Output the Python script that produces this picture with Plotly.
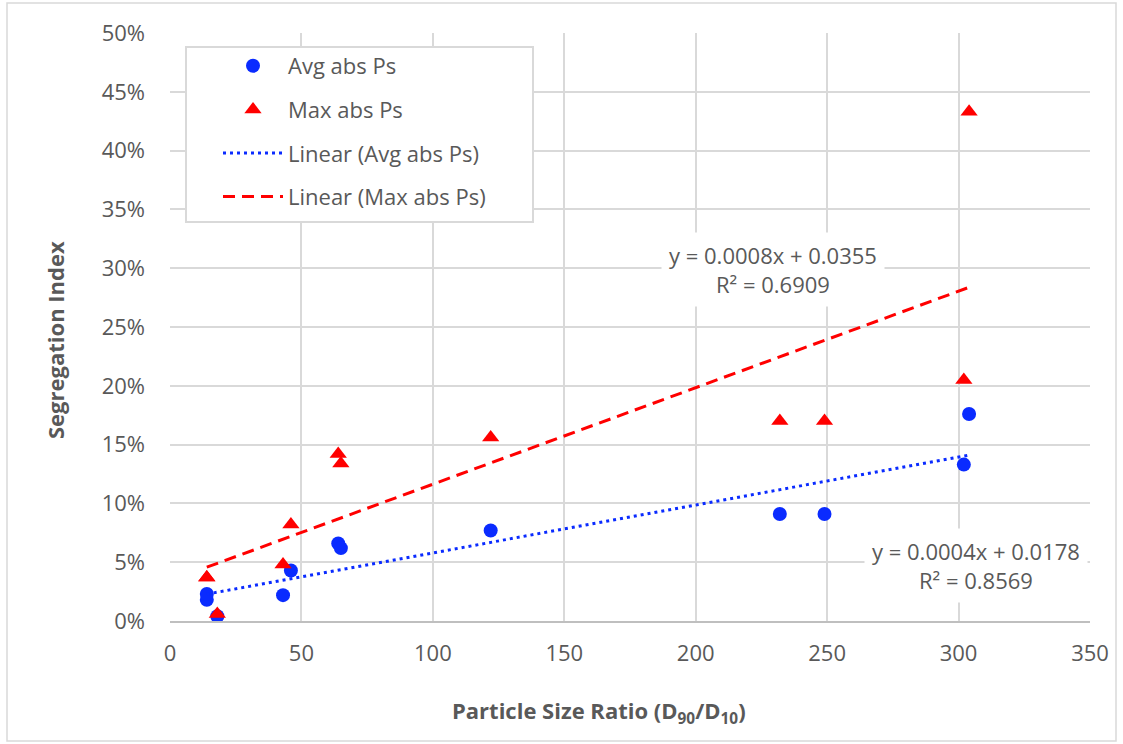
import numpy as np
import plotly.graph_objects as go

# ---- data ----
ratio = [14, 14, 18, 43, 46, 64, 65, 122, 232, 249, 302, 304]
avg_ps = [0.018, 0.023, 0.004, 0.022, 0.043, 0.066, 0.062, 0.077, 0.091, 0.091, 0.133, 0.176]
max_ps = [0.037, 0.037, 0.006, 0.048, 0.082, 0.142, 0.134, 0.156, 0.170, 0.170, 0.205, 0.433]

x_ticks = [0, 50, 100, 150, 200, 250, 300, 350]
y_ticks = [0, 0.05, 0.10, 0.15, 0.20, 0.25, 0.30, 0.35, 0.40, 0.45, 0.50]

eq_max = "y = 0.0008x + 0.0355<br>R² = 0.6909"
eq_avg = "y = 0.0004x + 0.0178<br>R² = 0.8569"

FONT = "Open Sans"
TXT = "#595959"
GRID = "#d9d9d9"
BLUE = "#0a2bff"
RED = "#ff0000"

# linear trend lines (least squares) over the data span
xa = np.array(ratio, dtype=float)
xs = np.array([xa.min(), xa.max()])
pa = np.polyfit(xa, avg_ps, 1)
pm = np.polyfit(xa, max_ps, 1)

fig = go.Figure()
fig.add_trace(go.Scatter(x=ratio, y=avg_ps, mode="markers", name="Avg abs Ps",
                         legendgroup="a",
                         marker=dict(symbol="circle", size=14, color=BLUE)))
fig.add_trace(go.Scatter(x=ratio, y=max_ps, mode="markers", name="Max abs Ps",
                         legendgroup="b",
                         marker=dict(symbol="triangle-up", size=15, color=RED)))
fig.add_trace(go.Scatter(x=xs, y=np.polyval(pa, xs), mode="lines", name="Linear (Avg abs Ps)",
                         legendgroup="c",
                         line=dict(color=BLUE, width=3, dash="3px,4px")))
fig.add_trace(go.Scatter(x=xs, y=np.polyval(pm, xs), mode="lines", name="Linear (Max abs Ps)",
                         legendgroup="d",
                         line=dict(color=RED, width=3, dash="12px,7px")))

L, R, T, B = 170, 33, 33, 123
W, H = 1123, 744
pw, ph = W - L - R, H - T - B


def px2paper_x(px):
    return (px - L) / pw


def px2paper_y(py):
    return (H - B - py) / ph


shapes = [
    # outer chart border
    dict(type="rect", xref="paper", yref="paper",
         x0=px2paper_x(7), x1=px2paper_x(1116), y0=px2paper_y(741), y1=px2paper_y(3),
         line=dict(color=GRID, width=1.5), fillcolor="rgba(0,0,0,0)", layer="below"),
    # legend box
    dict(type="rect", xref="paper", yref="paper",
         x0=px2paper_x(186), x1=px2paper_x(533), y0=px2paper_y(222), y1=px2paper_y(47),
         line=dict(color=GRID, width=2), fillcolor="white", layer="above"),
]

annotations = [
    dict(text=eq_max, x=229.4, y=0.2993, xref="x", yref="y", showarrow=False,
         font=dict(family=FONT, size=22, color=TXT), bgcolor="white", borderpad=7,
         align="center"),
    dict(text=eq_avg, x=306.5, y=0.0468, xref="x", yref="y", showarrow=False,
         font=dict(family=FONT, size=22, color=TXT), bgcolor="white", borderpad=7,
         align="center"),
    dict(text="Particle Size Ratio (D<sub>90</sub>/D<sub>10</sub>)", xref="paper", yref="paper",
         x=px2paper_x(599), y=px2paper_y(712), xanchor="center", yanchor="middle",
         showarrow=False,
         font=dict(family=FONT, size=22, color=TXT, weight="bold")),
    dict(text="Segregation Index", xref="paper", yref="paper", textangle=-90,
         x=px2paper_x(55), y=px2paper_y(340), xanchor="center", yanchor="middle",
         showarrow=False,
         font=dict(family=FONT, size=22, color=TXT, weight="bold")),
]

fig.update_layout(
    width=W, height=H,
    margin=dict(l=L, r=R, t=T, b=B, pad=0),
    paper_bgcolor="white", plot_bgcolor="white",
    font=dict(family=FONT, size=22, color=TXT),
    showlegend=True,
    legend=dict(x=px2paper_x(218), y=px2paper_y(45), xanchor="left", yanchor="top",
                bgcolor="rgba(0,0,0,0)", borderwidth=0,
                font=dict(family=FONT, size=22, color=TXT),
                traceorder="grouped", tracegroupgap=12, itemwidth=60),
    shapes=shapes,
    annotations=annotations,
)

fig.update_xaxes(range=[0, 350], tickvals=x_ticks, showgrid=True, gridcolor=GRID, gridwidth=2,
                 zeroline=False, showline=True, linecolor="#bfbfbf", linewidth=2,
                 ticks="", ticklabelstandoff=12,
                 tickfont=dict(family=FONT, size=22, color=TXT))
fig.update_yaxes(range=[0, 0.5], tickvals=y_ticks, tickformat=".0%", showgrid=True,
                 gridcolor=GRID, gridwidth=2, zeroline=False, showline=False,
                 ticks="", ticklabelstandoff=24,
                 tickfont=dict(family=FONT, size=22, color=TXT))

fig.write_html("out.html")
